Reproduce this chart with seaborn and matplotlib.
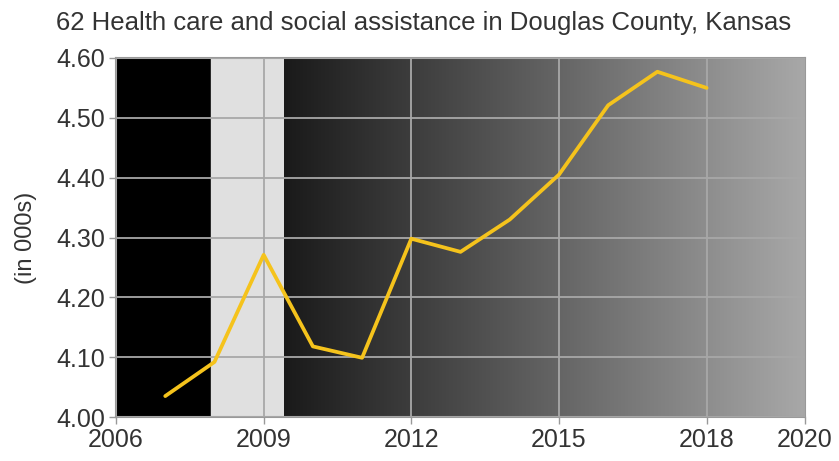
import numpy as np
import pandas as pd
import matplotlib
matplotlib.use("Agg")
import matplotlib.pyplot as plt
import seaborn as sns
from matplotlib.colors import LinearSegmentedColormap

# data
years = [2007, 2008, 2009, 2010, 2011, 2012, 2013, 2014, 2015, 2016, 2017, 2018]
jobs = [4.035, 4.092, 4.271, 4.118, 4.099, 4.298, 4.276, 4.330, 4.405, 4.521, 4.577, 4.550]
recession = [2007.92, 2009.42]
x_ticks = [2006, 2009, 2012, 2015, 2018, 2020]
y_ticks = [4.00, 4.10, 4.20, 4.30, 4.40, 4.50, 4.60]

df = pd.DataFrame({"year": years, "jobs": jobs})

sns.set_style("white")
plt.rcParams["font.family"] = ["Liberation Sans", "DejaVu Sans"]

fig = plt.figure(figsize=(8.39, 4.61), dpi=100)
ax = fig.add_axes([0.1383, 0.0954, 0.8212, 0.7788])

# background: black before recession, grey recession band, gradient after
ax.axvspan(2006, recession[0], color="black", zorder=0)
ax.axvspan(recession[0], recession[1], color="#e0e0e0", zorder=0)
grad = np.linspace(0, 1, 256).reshape(1, -1)
cmap = LinearSegmentedColormap.from_list("bg", ["#1a1a1a", "#a8a8a8"])
ax.imshow(grad, cmap=cmap, aspect="auto", extent=[recession[1], 2020, 4.0, 4.6], zorder=0)

sns.lineplot(data=df, x="year", y="jobs", color="#f5c31c", linewidth=2.7, ax=ax, zorder=3)

ax.set_xlim(2006, 2020)
ax.set_ylim(4.0, 4.6)
ax.set_xticks(x_ticks)
ax.set_yticks(y_ticks)
ax.set_yticklabels([f"{v:.2f}" for v in y_ticks])
ax.grid(True, color="#a8a8a8", linewidth=1.3)
ax.set_axisbelow(False)

for s in ax.spines.values():
    s.set_color("#999999")
    s.set_linewidth(1.5)
ax.tick_params(axis="both", colors="#999999", labelcolor="#333333", labelsize=18,
               length=5, width=1, direction="out", left=True, bottom=True, pad=3)

ax.set_xlabel("")
ax.set_ylabel("(in 000s)", fontsize=17, color="#333333", labelpad=14)
ax.set_title("62 Health care and social assistance in Douglas County, Kansas",
             fontsize=18.5, color="#333333", pad=20, x=0.447)

fig.savefig("out.png", dpi=100)
